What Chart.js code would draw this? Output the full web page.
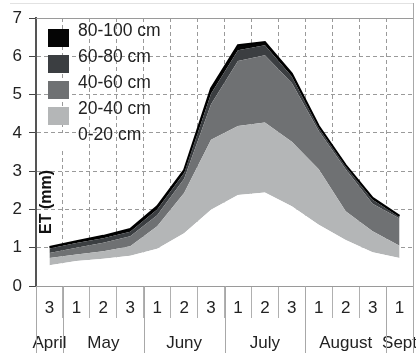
<!DOCTYPE html>
<html>
<head>
<meta charset="utf-8">
<script src="https://cdn.jsdelivr.net/npm/chart.js"></script>
<style>
    html, body { margin: 0; padding: 0; background: #fff; }
</style>
</head>
<body>
<canvas id="myChart" width="416" height="353"></canvas>
<script>
// ten-day periods (decades) and the month each belongs to
var decades = ['3', '1', '2', '3', '1', '2', '3', '1', '2', '3', '1', '2', '3', '1'];
var months = ['April', 'May', 'Juny', 'July', 'August', 'Sept'];
var monthOfDecade = [0, 1, 1, 1, 2, 2, 2, 3, 3, 3, 4, 4, 4, 5];

var layers = ['0-20 cm', '20-40 cm', '40-60 cm', '60-80 cm', '80-100 cm'];
var layerColors = ['#ffffff', '#b4b6b7', '#6f7173', '#3b3e41', '#050505'];

// ET (mm) per soil layer, stacked
var et_0_20 = [0.54, 0.65, 0.71, 0.79, 0.97, 1.38, 1.99, 2.38, 2.44, 2.08, 1.60, 1.20, 0.88, 0.73];
var et_20_40 = [0.19, 0.17, 0.20, 0.25, 0.59, 1.05, 1.83, 1.80, 1.83, 1.69, 1.45, 0.75, 0.55, 0.32];
var et_40_60 = [0.13, 0.18, 0.22, 0.26, 0.29, 0.37, 0.93, 1.70, 1.76, 1.53, 1.00, 1.10, 0.72, 0.71];
var et_60_80 = [0.12, 0.12, 0.12, 0.12, 0.15, 0.15, 0.27, 0.28, 0.26, 0.17, 0.08, 0.07, 0.10, 0.04];
var et_80_100 = [0.04, 0.05, 0.06, 0.07, 0.08, 0.08, 0.14, 0.13, 0.08, 0.08, 0.05, 0.04, 0.05, 0.03];

var yAxisTitle = 'ET (mm)';

var FONT = '"Liberation Sans", Arial, sans-serif';
Chart.defaults.font.family = FONT;

// label = [decade, month name under the middle decade of its month]
var labels = decades.map(function(d, i) {
    var m = monthOfDecade[i];
    var idx = [];
    monthOfDecade.forEach(function(v, j) { if (v == m) idx.push(j); });
    var mid = idx[Math.floor(idx.length / 2)];
    return [d, i == mid ? months[m] : ''];
});

var values = [et_0_20, et_20_40, et_40_60, et_60_80, et_80_100];
var datasets = values.map(function(v, k) {
    return {
        label: layers[k],
        data: v,
        backgroundColor: layerColors[k],
        borderColor: k == values.length - 1 ? '#000' : layerColors[k],
        borderWidth: k == values.length - 1 ? 2 : 0,
        fill: k == 0 ? 'origin' : '-1',
        pointRadius: 0,
        tension: 0
    };
});

var extras = {
    id: 'extras',
    afterDraw: function(chart) {
        var c = chart.ctx, a = chart.chartArea, xs = chart.scales.x;
        c.save();
        // month separators through the axis area
        c.strokeStyle = '#a8a8a8';
        c.lineWidth = 1;
        for (var i = 0; i <= decades.length; i++) {
            if (i == 0 || i == decades.length || monthOfDecade[i] != monthOfDecade[i - 1]) {
                var px;
                if (i == 0) px = a.left;
                else if (i == decades.length) px = a.right;
                else px = (xs.getPixelForValue(i - 1) + xs.getPixelForValue(i)) / 2;
                px = Math.round(px) + 0.5;
                c.beginPath();
                c.moveTo(px, a.bottom);
                c.lineTo(px, chart.height);
                c.stroke();
            }
        }
        // plot frame (top, right) and outer frame
        c.strokeStyle = '#9a9a9a';
        c.beginPath();
        c.moveTo(a.left, Math.round(a.top) + 0.5);
        c.lineTo(a.right, Math.round(a.top) + 0.5);
        c.stroke();
        c.strokeStyle = '#a8a8a8';
        c.beginPath();
        c.moveTo(Math.round(a.right) + 0.5, 3);
        c.lineTo(Math.round(a.right) + 0.5, chart.height);
        c.stroke();
        c.strokeStyle = '#e2e2e2';
        c.beginPath();
        c.moveTo(10, 3.5);
        c.lineTo(a.right, 3.5);
        c.stroke();

        // y title inside plot
        c.fillStyle = '#111';
        c.font = 'bold 16px ' + FONT;
        c.textAlign = 'center';
        c.textBaseline = 'middle';
        c.translate(a.left + 11, 202);
        c.rotate(-Math.PI / 2);
        c.fillText(yAxisTitle, 0, 0);
        c.restore();

        // legend, top-left inside plot
        c.save();
        c.font = '17.5px ' + FONT;
        c.textBaseline = 'middle';
        c.textAlign = 'left';
        var sets = chart.data.datasets.slice().reverse();
        sets.forEach(function(ds, k) {
            var top = a.top + 11 + k * 26;
            c.fillStyle = ds.backgroundColor;
            c.fillRect(a.left + 12, top, 21, 18);
            c.fillStyle = '#222';
            c.fillText(ds.label, a.left + 42, top + 2);
        });
        c.restore();
    }
};

var ctx = document.getElementById('myChart').getContext('2d');
var chart = new Chart(ctx, {
    type: 'line',
    data: {
        labels: labels,
        datasets: datasets
    },
    options: {
        responsive: false,
        animation: false,
        layout: { padding: { top: 18, right: 3, left: 0, bottom: 0 } },
        plugins: {
            legend: { display: false },
            tooltip: { enabled: false }
        },
        scales: {
            x: {
                offset: true,
                grid: {
                    offset: true,
                    color: '#9a9a9a',
                    tickColor: '#b0b0b0',
                    tickLength: 32,
                    lineWidth: 1
                },
                border: { color: '#9a9a9a', width: 1, dash: [4, 3] },
                ticks: {
                    autoSkip: false,
                    maxRotation: 0,
                    minRotation: 0,
                    padding: -27.5,
                    color: '#222',
                    font: { size: 17, lineHeight: '35px' }
                },
                afterFit: function(scale) { scale.height = 67; }
            },
            y: {
                stacked: true,
                min: 0,
                max: 7,
                ticks: {
                    stepSize: 1,
                    padding: 7,
                    color: '#222',
                    font: { size: 17 }
                },
                grid: {
                    color: '#9a9a9a',
                    tickColor: '#444',
                    tickLength: 7
                },
                border: { color: '#555', width: 2, dash: [4, 3] },
                afterFit: function(scale) { scale.width = 36; }
            }
        }
    },
    plugins: [extras]
});
</script>
</body>
</html>
